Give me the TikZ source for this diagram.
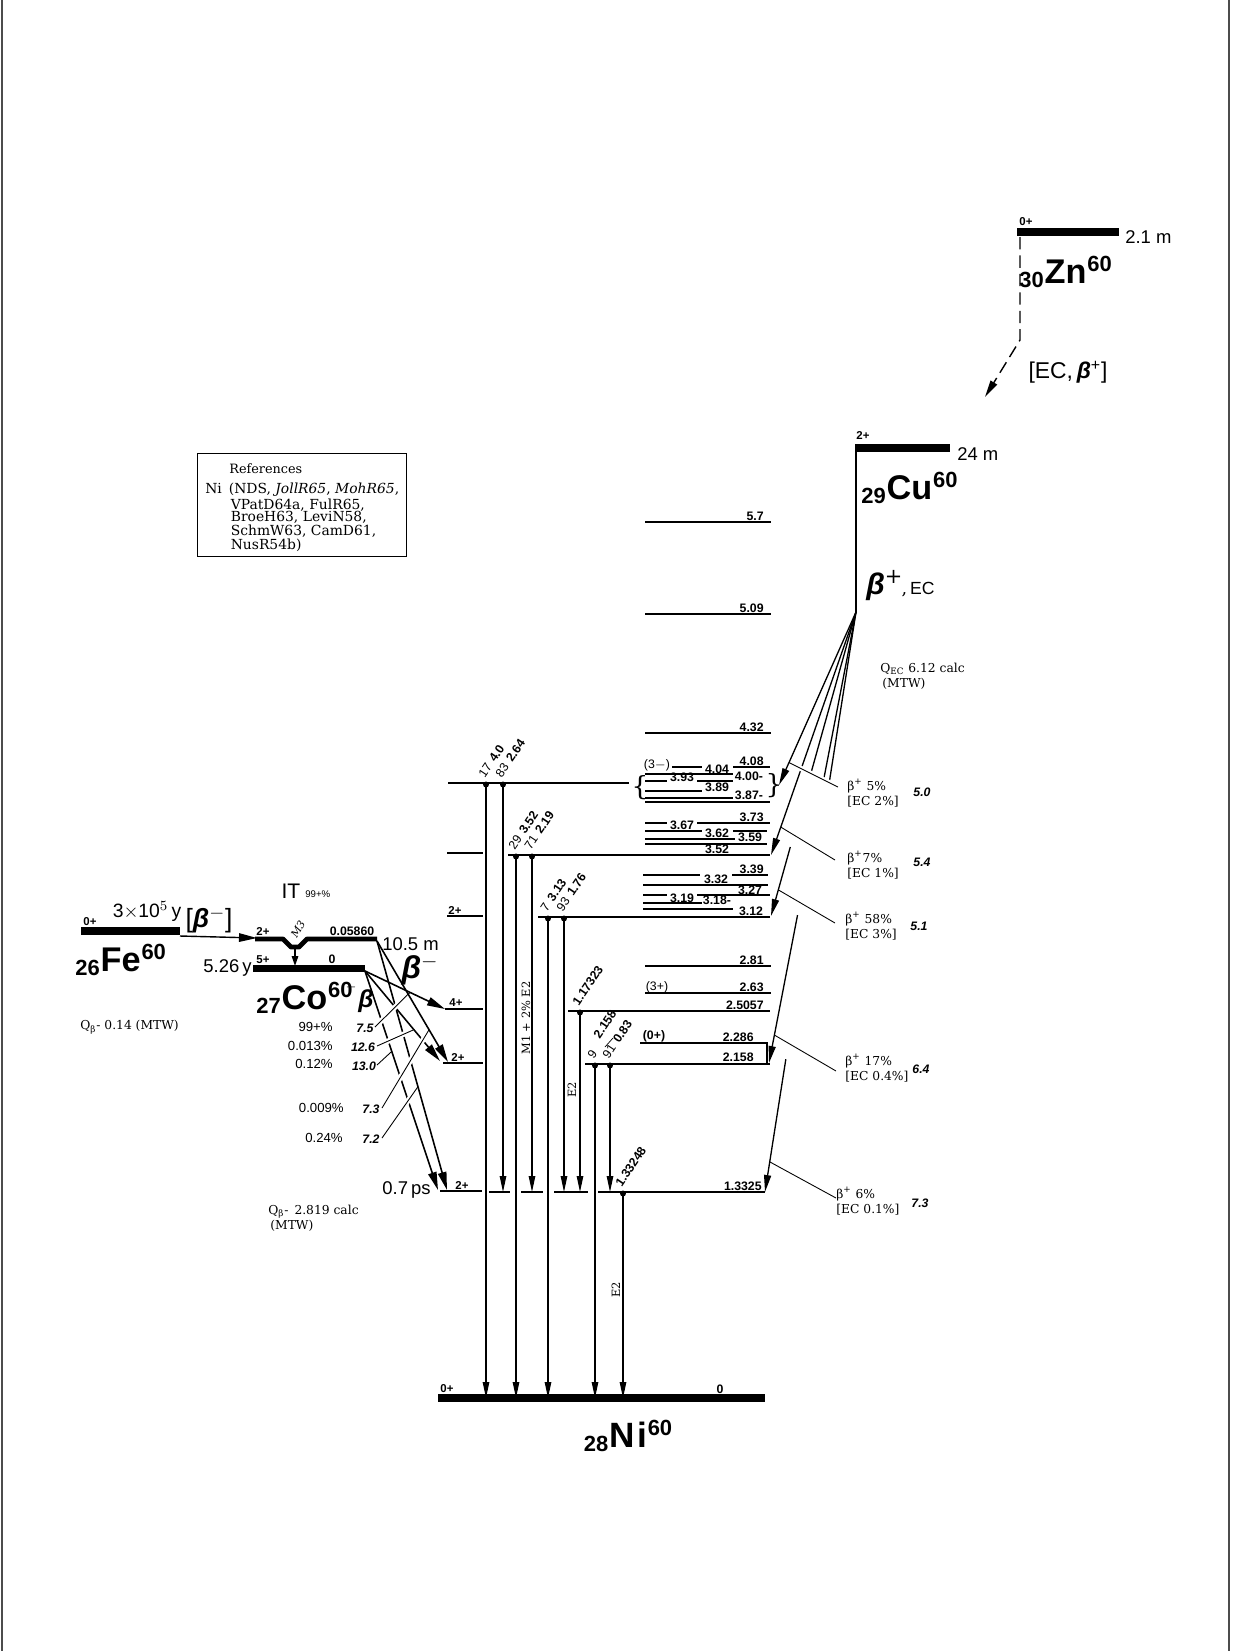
\documentclass[tikz,border=0pt]{standalone}
\usepackage{fontspec}
\setmainfont{DejaVu Serif}
\setsansfont{Liberation Sans}
\usetikzlibrary{arrows.meta,calc}

% nuclide label: #1 charge, #2 symbol, #3 mass
\newcommand{\nucname}[3]{\raisebox{-2.5pt}{\fontsize{12.5}{12.5}\selectfont #1}\kern0.5pt#2\kern0.5pt\raisebox{6.5pt}{\fontsize{12.5}{12.5}\selectfont #3}}
% heavy slanted beta of the drawing
\newcommand{\bbeta}{{\sffamily\bfseries\itshape β}}

\begin{document}
\begin{tikzpicture}[
  x=0.02cm, y=-0.02cm,
  lev/.style={line width=1.1pt},
  bar/.style={line width=5pt},
  gam/.style={line width=0.65pt, -{Triangle[length=3.2mm,width=1.3mm]}},
  feed/.style={line width=0.75pt, -{Triangle[length=3.4mm,width=1.4mm]}},
  bmin/.style={line width=0.9pt, -{Triangle[length=3.6mm,width=1.7mm]}},
  lead/.style={line width=0.5pt, preaction={draw=white, line width=3pt, shorten <=3pt, shorten >=3pt}},
  elab/.style={font=\sffamily\bfseries\fontsize{7}{7}\selectfont, inner sep=0pt},
  spin/.style={font=\sffamily\bfseries\fontsize{6.5}{6.5}\selectfont, inner sep=0pt},
  nuc/.style={font=\sffamily\bfseries\fontsize{19.5}{19.5}\selectfont, inner sep=0pt},
  half/.style={font=\sffamily\fontsize{10.5}{10.5}\selectfont, inner sep=0pt},
  blab/.style={font=\fontsize{7}{8.5}\selectfont, align=left, anchor=west, inner sep=0pt},
  ft/.style={font=\sffamily\bfseries\itshape\fontsize{7}{7}\selectfont, inner sep=0pt},
  glab/.style={font=\sffamily\fontsize{7}{7}\selectfont, rotate=56, anchor=south west, inner sep=0pt},
  pct/.style={font=\sffamily\fontsize{7.5}{7.5}\selectfont, anchor=east, inner sep=0pt},
  edge/.style={line width=0.9pt, black!70},
]
\useasboundingbox (0,0) rectangle (1241,1651);

% scanned page edges
\coordinate (pl0) at (2,0);   \coordinate (pl1) at (2,1651);
\coordinate (pr0) at (1229,0); \coordinate (pr1) at (1229,1651);
\draw[edge] (pl0) -- (pl1);
\draw[edge] (pr0) -- (pr1);

% one gamma: #1 name, #2 x, #3 upper level y, #4 lower level y, #5 label
\newcommand{\gline}[5]{%
  \coordinate (#1s) at (#2,#3);
  \coordinate (#1e) at (#2,#4);
  \fill (#1s) ++(0,1.5) circle (1.7pt);
  \draw[gam] (#1s) -- (#1e);
  \node[glab] (#1l) at ($(#1s)+(-1,-4)$) {#5};
}

% ======================= 30Zn60 =======================
\draw[bar] (1017,232) -- (1119,232);
\node[spin] (zns) at (1026,222) {0+};
\node[half, anchor=west] (znt) at (1125,237) {2.1 m};
\node[nuc, anchor=west] (znn) at (1019,272) {\nucname{30}{Zn}{60}};
\coordinate (zn0) at (1020,237);
\coordinate (zn1) at (1020,340);
\coordinate (zn2) at (985,397);
\draw[line width=0.8pt, dash pattern=on 7pt off 3.5pt, -{Triangle[length=3.4mm,width=1.5mm]}] (zn0) -- (zn1) -- (zn2);
\node[font=\sffamily\fontsize{13}{13}\selectfont, inner sep=0pt] (znd) at (1068,372) {[EC,\,\bbeta\textsuperscript{+}]};

% ======================= 29Cu60 =======================
\draw[bar] (855,448) -- (950,448);
\node[spin] (cus) at (863,436) {2+};
\node[half, anchor=west] (cut) at (957,454) {24 m};
\node[nuc, anchor=west] (cun) at (861,488) {\nucname{29}{Cu}{60}};
\coordinate (cu0) at (856,451);
\coordinate (V) at (856,612);
\draw[line width=1pt] (cu0) -- (V);
\node[anchor=west, inner sep=0pt] (cud) at (866,586) {{\fontsize{17}{17}\selectfont\bbeta\textsuperscript{+}}\kern-1pt,\,{\sffamily\fontsize{10}{10}\selectfont EC}};
\node[anchor=west, font=\fontsize{7}{8.5}\selectfont, align=left, inner sep=0pt] (cuq) at (880,676) {Q\textsubscript{EC} 6.12 calc\\\,(MTW)};

% ======================= references =======================
\node[draw, line width=0.8pt, minimum width=119pt, minimum height=58.4pt, anchor=north west, inner sep=0pt] (refbox) at (197,453) {};
\node[font=\fontsize{7.3}{8}\selectfont, anchor=west, inner sep=0pt] (refh) at (229,469) {References};
\node[font=\fontsize{7.9}{7.05}\selectfont, anchor=north west, align=left, inner sep=0pt] (refl) at (205,483)
  {Ni\enspace(NDS, \textit{JollR65}, \textit{MohR65},\\
   \hspace*{14.5pt}VPatD64a, FulR65,\\
   \hspace*{14.5pt}BroeH63, LeviN58,\\
   \hspace*{14.5pt}SchmW63, CamD61,\\
   \hspace*{14.5pt}NusR54b)};

% ======================= 28Ni60 levels =======================
\foreach \y/\e in {522/5.7, 614/5.09, 733/4.32, 966/2.81, 993/2.63} {
  \draw[lev] (645,\y) -- (771,\y);
  \node[elab, anchor=south east] at (764,\y-1.5) {\e};
}
% 3.87 -- 4.08 group
\draw[lev] (672,767) -- (702,767) (733,767) -- (770,767);
\draw[lev] (645,774) -- (733,774);
\draw[lev] (645,781) -- (667,781) (697,781) -- (733,781);
\draw[lev] (645,791) -- (702,791);
\draw[lev] (645,798) -- (733,798);
\draw[lev] (645,802) -- (770,802);
\node[font=\sffamily\fontsize{7}{7}\selectfont, inner sep=0pt] at (657,765) {(3$-$)};
\node[elab, anchor=south east] at (764,765.5) {4.08};
\node[elab] at (717,769) {4.04};
\node[elab] at (749,776) {4.00-};
\node[elab] at (682,777) {3.93};
\node[elab] at (717,787) {3.89};
\node[elab] at (749,795) {3.87-};
\node[font=\fontsize{15}{15}\selectfont, inner sep=0pt] at (640,788) {\{};
\node[font=\fontsize{15}{15}\selectfont, inner sep=0pt] at (774,786) {\}};
% 3.52 -- 3.73 group
\draw[lev] (645,823) -- (667,823) (697,823) -- (770,823);
\draw[lev] (645,831) -- (702,831) (733,831) -- (767,831);
\draw[lev] (645,839) -- (735,839);
\draw[lev] (645,844) -- (767,844);
\node[elab, anchor=south east] at (764,821.5) {3.73};
\node[elab] at (682,825) {3.67};
\node[elab] at (717,833) {3.62};
\node[elab] at (750,837) {3.59};
\node[elab] at (717,849.5) {3.52};
% 3.12 -- 3.39 group
\draw[lev] (643,875) -- (700,875) (732,875) -- (768,875);
\draw[lev] (643,885) -- (768,885);
\draw[lev] (643,895) -- (667,895) (697,895) -- (770,895);
\draw[lev] (643,903) -- (702,903);
\draw[lev] (643,909) -- (733,909);
\node[elab, anchor=south east] at (764,873.5) {3.39};
\node[elab] at (716,879) {3.32};
\node[elab] at (750,890) {3.27};
\node[elab] at (682,898) {3.19};
\node[elab] at (717,900) {3.18-};
\node[elab] at (751,911.5) {3.12};
% levels fed from the left
\draw[lev] (448,783) -- (629,783);
\draw[lev] (447,853) -- (483,853) (508,855) -- (770,855);
\draw[lev] (447,916) -- (483,916) (538,917) -- (770,917);
\draw[lev] (445,1009) -- (483,1009) (568,1011) -- (770,1011);
\draw[lev] (640,1043) -- (767,1043) -- (767,1064);
\draw[lev] (443,1063) -- (483,1063) (585,1064) -- (770,1064);
\draw[lev] (440,1191) -- (482,1191) (489,1192) -- (510,1192) (521,1192) -- (543,1192)
           (554,1192) -- (588,1192) (598,1192) -- (765,1192);
\node[spin] at (455,910) {2+};
\node[spin] at (456,1003) {4+};
\node[spin] at (458,1057) {2+};
\node[spin] at (462,1185) {2+};
\node[font=\sffamily\fontsize{7}{7}\selectfont, inner sep=0pt] at (657,987) {(3+)};
\node[elab, anchor=south east] at (764,1009.5) {2.5057};
\node[font=\sffamily\bfseries\fontsize{7}{7}\selectfont, inner sep=0pt] at (654,1036) {(0+)};
\node[elab, anchor=south east] at (754,1041.5) {2.286};
\node[elab, anchor=south east] at (754,1062) {2.158};
\node[elab, anchor=south east] at (762,1190.5) {1.3325};
% ground state
\draw[bar] (438,1398) -- (765,1398);
\node[spin] at (447,1389) {0+};
\node[elab] at (720,1389) {0};
\node[nuc, font=\sffamily\bfseries\fontsize{20}{20}\selectfont] (nin) at (628,1436) {\nucname{28}{N\kern1.5pt i}{60}};

% ======================= gamma rays =======================
\gline{ga}{486}{783}{1398}{17\hspace{3pt}\textbf{4.0}}
\gline{gb}{503}{783}{1192}{83\hspace{3pt}\textbf{2.64}}
\gline{gc}{516}{855}{1398}{29\hspace{3pt}\textbf{3.52}}
\gline{gd}{532}{855}{1192}{71\hspace{3pt}\textbf{2.19}}
\gline{ge}{548}{917}{1398}{7\hspace{3pt}\textbf{3.13}}
\gline{gf}{564}{917}{1192}{93\hspace{3pt}\textbf{1.76}}
\gline{gg}{580}{1011}{1192}{\textbf{1.17323}}
\gline{gh}{595}{1064}{1398}{9}
\gline{gi}{610}{1064}{1192}{91\hspace{3pt}\textbf{0.83}}
\gline{gj}{623}{1192}{1398}{\textbf{1.33248}}
\node[glab] (ghl2) at (600,1040) {\textbf{2.158}};
\draw[line width=0.4pt] (605,1047) -- (613,1038);
\node[font=\fontsize{6.5}{6.5}\selectfont, rotate=90, inner sep=0pt] (gcm) at (526,1018) {M1 + 2\% E2};
\node[font=\fontsize{6.5}{6.5}\selectfont, rotate=90, inner sep=0pt] (ggm) at (572,1090) {E2};
\node[font=\fontsize{6.5}{6.5}\selectfont, rotate=90, inner sep=0pt] (gjm) at (616,1290) {E2};

% ======================= Cu60 beta+ / EC feeding =======================
\coordinate (c4) at (779,785);
\coordinate (c352) at (771,855);
\coordinate (c312) at (771,916);
\coordinate (c2158) at (769,1063);
\coordinate (c1332) at (765,1192);
\draw[feed] (V) -- (c4);
\draw[feed] (V) -- (c352);
\draw[line width=0.75pt] (V) -- ($(V)!0.529!(c312)$);
\draw[line width=0.75pt] (V) -- ($(V)!0.371!(c2158)$);
\draw[line width=0.75pt] (V) -- ($(V)!0.294!(c1332)$);
\draw[feed] ($(V)!0.773!(c312)$) -- (c312);
\draw[feed] ($(V)!0.672!(c2158)$) -- (c2158);
\draw[feed] ($(V)!0.771!(c1332)$) -- (c1332);
\draw[lead] ($(V)!0.87!(c4)$) -- (838,787);
\draw[lead] ($(V)!0.885!(c352)$) -- (835,860);
\draw[lead] ($(V)!0.914!(c312)$) -- (835,923);
\draw[lead] ($(V)!0.938!(c2158)$) -- (836,1071);
\draw[lead] ($(V)!0.948!(c1332)$) -- (836,1198);
\node[blab] (bp1) at (847,793) {β\textsuperscript{+} 5\%\\{[}EC 2\%{]}};
\node[ft] at (922,792) {5.0};
\node[blab] (bp2) at (847,865) {β\textsuperscript{+}7\%\\{[}EC 1\%{]}};
\node[ft] at (922,862) {5.4};
\node[blab] (bp3) at (845,926) {β\textsuperscript{+} 58\%\\{[}EC 3\%{]}};
\node[ft] at (919,926) {5.1};
\node[blab] (bp4) at (845,1068) {β\textsuperscript{+} 17\%\\{[}EC 0.4\%{]}};
\node[ft] at (921,1069) {6.4};
\node[blab] (bp5) at (836,1201) {β\textsuperscript{+} 6\%\\{[}EC 0.1\%{]}};
\node[ft] at (920,1203) {7.3};

% ======================= 26Fe60 =======================
\draw[bar] (81,931) -- (180,931);
\node[spin] (fes) at (90,922) {0+};
\node[half, font=\sffamily\fontsize{11}{11}\selectfont] (fet) at (147,911) {3$\times$10$^5$\,y};
\node[inner sep=0pt, font=\sffamily\fontsize{15}{15}\selectfont] (fed) at (209,920) {[\bbeta\textsuperscript{$-$}]};
\node[nuc, anchor=west] (fen) at (75,960) {\nucname{26}{Fe}{60}};
\node[font=\fontsize{7}{7}\selectfont, anchor=west, inner sep=0pt] (feq) at (80,1027) {Q\textsubscript{β}- 0.14 (MTW)};
\coordinate (fe0) at (180,936);
\coordinate (co2) at (257,938);

% ======================= 27Co60 =======================
\draw[line width=2.8pt, line join=round] (255,939) -- (283,939) -- (291,947) -- (299,947) -- (307,939) -- (377,939);
\draw[bar, line width=4pt] (253,968) -- (365,968);
\draw[bmin, line width=0.8pt] (fe0) -- (co2);
\coordinate (it0) at (295,947);
\coordinate (it1) at (295,966);
\draw[-{Triangle[length=2mm,width=1.3mm]}, line width=0.8pt] (it0) -- (it1);
\node[font=\sffamily\fontsize{12}{12}\selectfont, inner sep=0pt] (itl) at (291,891) {IT};
\node[font=\sffamily\fontsize{5.5}{5.5}\selectfont, anchor=west, inner sep=0pt] (itp) at (305,894) {99+\%};
\node[spin] at (263,931) {2+};
\node[font=\itshape\fontsize{6}{6}\selectfont, rotate=60, inner sep=0pt] at (298,929) {M3};
\node[elab] at (352,931) {0.05860};
\node[half, anchor=west] (cmt) at (382,944) {10.5 m};
\node[spin] at (263,960) {5+};
\node[elab] at (332,959) {0};
\node[half, anchor=east] (cgt) at (252,968) {5.26\,y};
\node[nuc, anchor=west] (con) at (256,998) {\nucname{27}{Co}{60}};
\node[inner sep=0pt, font=\fontsize{18}{18}\selectfont] (cmb) at (420,970) {\bbeta\textsuperscript{$-$}};
\node[inner sep=0pt, font=\fontsize{14}{14}\selectfont] (cgb) at (366,1001) {\bbeta};
\node[inner sep=0pt, font=\fontsize{7}{7}\selectfont] at (351,987) {$-$};
\node[font=\fontsize{7}{8.5}\selectfont, anchor=west, inner sep=0pt, align=left] (coq) at (268,1218) {Q\textsubscript{β}- \,2.819 calc\\\,(MTW)};
\node[half, anchor=east] (n13t) at (431,1190) {0.7\,ps};

% Co60 beta- branches
\coordinate (G) at (365,971);
\coordinate (M) at (377,941);
\coordinate (t4) at (445,1009);
\coordinate (t2a) at (440,1061);
\coordinate (t2b) at (448,1062);
\coordinate (t1a) at (438,1190);
\coordinate (t1b) at (447,1190);
\draw[bmin] (G) -- (t4);
\draw[bmin] (G) -- (t2a);
\draw[bmin] (M) -- (t2b);
\draw[bmin] (G) -- (t1a);
\draw[bmin] (M) -- (t1b);
\node[pct] at (333,1027) {99+\%};  \node[ft] at (365,1028) {7.5};
\node[pct] at (333,1046) {0.013\%}; \node[ft] at (363,1047) {12.6};
\node[pct] at (333,1064) {0.12\%};  \node[ft] at (364,1066) {13.0};
\node[pct] at (344,1108) {0.009\%}; \node[ft] at (371,1109) {7.3};
\node[pct] at (343,1138) {0.24\%};  \node[ft] at (371,1139) {7.2};
\draw[lead] (375,1027) -- ($(G)!0.5625!(t4)$);
\draw[lead] (377,1046) -- ($(G)!0.652!(t2a)$);
\draw[lead] (377,1065) -- ($(G)!0.367!(t1a)$);
\draw[lead] (382,1108) -- ($(M)!0.733!(t2b)$);
\draw[lead] (382,1138) -- ($(M)!0.585!(t1b)$);

\end{tikzpicture}
\end{document}
